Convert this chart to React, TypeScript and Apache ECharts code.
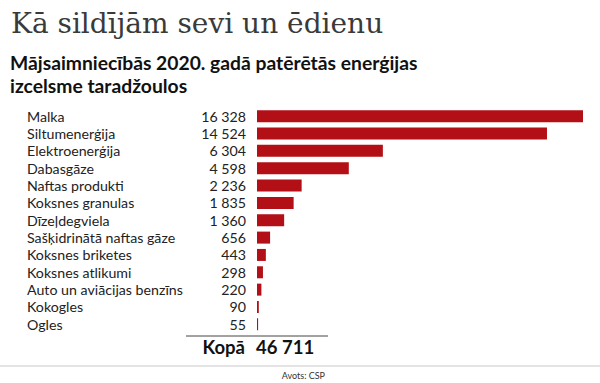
import React, { useEffect, useRef } from "react";
import * as echarts from "echarts";

const categories = [
  "Malka",
  "Siltumenerģija",
  "Elektroenerģija",
  "Dabasgāze",
  "Naftas produkti",
  "Koksnes granulas",
  "Dīzeļdegviela",
  "Sašķidrinātā naftas gāze",
  "Koksnes briketes",
  "Koksnes atlikumi",
  "Auto un aviācijas benzīns",
  "Kokogles",
  "Ogles",
];
const values = [16328, 14524, 6304, 4598, 2236, 1835, 1360, 656, 443, 298, 220, 90, 55];
const totalLabel = "Kopā";
const totalValue = 46711;
const titleText = "Kā sildījām sevi un ēdienu";
const subtitleLines = ["Mājsaimniecībās 2020. gadā patērētās enerģijas", "izcelsme taradžoulos"];
const sourceText = "Avots: CSP";

const fmt = (v: number) => String(v).replace(/\B(?=(\d{3})+(?!\d))/g, " ");

const FONT = "Lato, 'Noto Sans', sans-serif";

export default function App() {
  const ref = useRef<HTMLDivElement>(null);
  useEffect(() => {
    if (!ref.current) return;
    const chart = echarts.init(ref.current, null, { renderer: "svg" });
    const gridLeft = 257;
    chart.setOption({
      animation: false,
      backgroundColor: "#ffffff",
      grid: { left: gridLeft, right: 17, top: 107.5, bottom: 383 - 333, containLabel: false },
      xAxis: {
        type: "value",
        min: 0,
        max: 16328,
        show: false,
      },
      yAxis: [
        {
          type: "category",
          inverse: true,
          data: categories,
          position: "left",
          axisLine: { show: false },
          axisTick: { show: false },
          axisLabel: {
            interval: 0,
            hideOverlap: false,
            align: "left",
            margin: gridLeft - 27,
            color: "#222",
            fontSize: 14.2,
            fontFamily: FONT,
          },
        },
        {
          type: "category",
          inverse: true,
          data: values.map(fmt),
          position: "left",
          axisLine: { show: false },
          axisTick: { show: false },
          axisLabel: {
            interval: 0,
            hideOverlap: false,
            align: "right",
            margin: 11,
            color: "#222",
            fontSize: 14.2,
            fontFamily: FONT,
          },
        },
      ],
      series: [
        {
          type: "bar",
          data: values,
          yAxisIndex: 0,
          barWidth: 12,
          itemStyle: { color: "#b30f17" },
        },
      ],
      graphic: [
        {
          type: "text",
          left: 11,
          top: 9,
          style: {
            text: titleText,
            font: "normal 28px 'DejaVu Serif', serif",
            fill: "#3a3a3a",
          },
        },
        {
          type: "text",
          left: 10,
          top: 51,
          style: {
            text: subtitleLines.join("\n"),
            font: "bold 19.3px " + FONT,
            lineHeight: 23,
            fill: "#111",
          },
        },
        {
          type: "line",
          shape: { x1: 186, y1: 336, x2: 328, y2: 336 },
          style: { stroke: "#444", lineWidth: 1 },
        },
        {
          type: "text",
          x: 245,
          y: 347,
          style: {
            text: totalLabel,
            font: "bold 18.5px " + FONT,
            fill: "#111",
            align: "right",
            verticalAlign: "middle",
          },
        },
        {
          type: "text",
          x: 256,
          y: 347,
          style: {
            text: fmt(totalValue),
            font: "bold 18.5px " + FONT,
            fill: "#111",
            align: "left",
            verticalAlign: "middle",
          },
        },
        {
          type: "line",
          shape: { x1: 0, y1: 366, x2: 600, y2: 366 },
          style: { stroke: "#c8c8c8", lineWidth: 1 },
        },
        {
          type: "text",
          x: 325,
          y: 375.5,
          style: {
            text: sourceText,
            font: "normal 9px " + FONT,
            fill: "#333",
            align: "right",
            verticalAlign: "middle",
          },
        },
      ],
    });
    return () => chart.dispose();
  }, []);
  return <div ref={ref} style={{ width: 600, height: 383, position: "absolute", left: 0, top: 0 }} />;
}
